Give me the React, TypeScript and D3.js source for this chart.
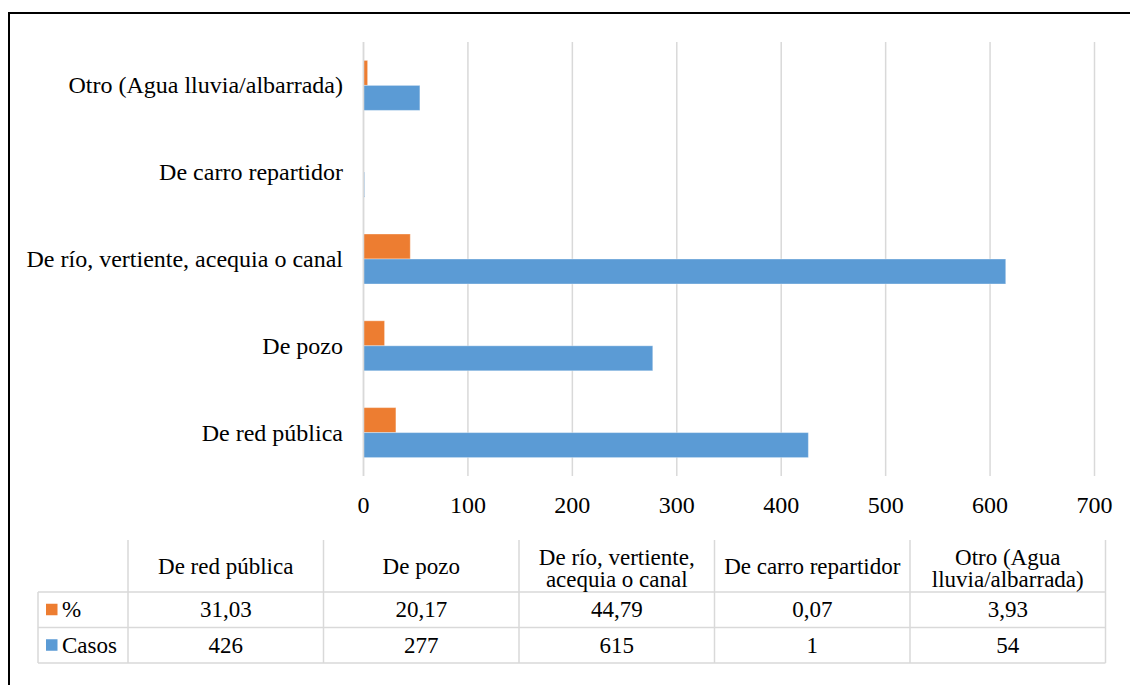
import React, { useEffect } from "react";
import * as d3 from "d3";

const categories = [
  "De red pública",
  "De pozo",
  "De río, vertiente, acequia o canal",
  "De carro repartidor",
  "Otro (Agua lluvia/albarrada)",
];
const tableHeaders = [
  ["De red pública"],
  ["De pozo"],
  ["De río, vertiente,", "acequia o canal"],
  ["De carro repartidor"],
  ["Otro (Agua", "lluvia/albarrada)"],
];
const pctValues = [31.03, 20.17, 44.79, 0.07, 3.93];
const pctLabels = ["31,03", "20,17", "44,79", "0,07", "3,93"];
const casosValues = [426, 277, 615, 1, 54];
const casosLabels = ["426", "277", "615", "1", "54"];
const seriesNames = ["%", "Casos"];
const seriesColors = ["#ED7D31", "#5B9BD5"];
const xTicks = [0, 100, 200, 300, 400, 500, 600, 700];

const W = 1130;
const H = 685;
const FONT_STYLE = { fontFamily: '"Liberation Serif"' };
const FS = 24;
const TFS = 23;

export default function App() {
  useEffect(() => {
    document.body.style.margin = "0";
  }, []);

  const x = d3.scaleLinear().domain([0, 700]).range([363.5, 1094.5]);
  const yCats = [...categories].reverse();
  const y = d3
    .scaleBand<string>()
    .domain(yCats)
    .range([42, 476])
    .paddingInner(0.424)
    .paddingOuter(0.212);
  const ySub = d3.scaleBand<string>().domain(seriesNames).range([0, y.bandwidth()]);
  const seriesData = [pctValues, casosValues];

  const colX = d3.scaleLinear().domain([0, 5]).range([128, 1105.5]);
  const colW = colX(1) - colX(0);
  const tableTop = 540;
  const rowLines = [592, 627.5, 663];
  const gridColor = "#d9d9d9";

  return (
    <svg width={W} height={H} style={{ display: "block" }}>
      <rect x={0} y={0} width={W} height={H} fill="#fff" />
      <rect x={9} y={13} width={W + 20} height={H + 20} fill="none" stroke="#000" strokeWidth={2} />

      {xTicks.map((t) => (
        <line key={t} x1={x(t)} x2={x(t)} y1={42} y2={476} stroke={gridColor} strokeWidth={1.5} />
      ))}

      {categories.map((c, i) => (
        <g key={c}>
          {seriesNames.map((s, j) => (
            <rect
              key={s}
              x={x(0)}
              y={(y(c) as number) + (ySub(s) as number)}
              width={x(seriesData[j][i]) - x(0)}
              height={ySub.bandwidth()}
              fill={seriesColors[j]}
              stroke="#ffffff"
              strokeOpacity={0.35}
              strokeWidth={1}
            />
          ))}
          <text
            x={343}
            y={(y(c) as number) + y.bandwidth() / 2 + 8}
            textAnchor="end"
            fontSize={FS}
            style={FONT_STYLE}
            fill="#000"
          >
            {c}
          </text>
        </g>
      ))}
      <line x1={x(0)} x2={x(0)} y1={42} y2={476} stroke={gridColor} strokeWidth={1.5} />

      {xTicks.map((t) => (
        <text key={t} x={x(t)} y={513} textAnchor="middle" fontSize={FS} style={FONT_STYLE} fill="#000">
          {t}
        </text>
      ))}

      <g stroke={gridColor} strokeWidth={1.5}>
        {d3.range(6).map((k) => (
          <line key={k} x1={colX(k)} x2={colX(k)} y1={tableTop} y2={rowLines[2]} />
        ))}
        <line x1={38} x2={38} y1={rowLines[0]} y2={rowLines[2]} />
        {rowLines.map((ry) => (
          <line key={ry} x1={38} x2={colX(5)} y1={ry} y2={ry} />
        ))}
      </g>
      {tableHeaders.map((lines, i) => {
        const cx = colX(i) + colW / 2;
        const base = lines.length === 1 ? 573.5 : 565;
        return (
          <text key={i} textAnchor="middle" fontSize={TFS} style={FONT_STYLE} fill="#000">
            {lines.map((l, k) => (
              <tspan key={k} x={cx} y={base + k * 21.5}>
                {l}
              </tspan>
            ))}
          </text>
        );
      })}
      {[pctLabels, casosLabels].map((labels, r) => {
        const cy = (rowLines[r] + rowLines[r + 1]) / 2;
        return (
          <g key={r}>
            <rect x={46} y={cy - 6} width={11.5} height={11.5} fill={seriesColors[r]} />
            <text x={62} y={cy + 7.5} fontSize={TFS} style={FONT_STYLE} fill="#000">
              {seriesNames[r]}
            </text>
            {labels.map((l, i) => (
              <text key={i} x={colX(i) + colW / 2} y={cy + 7.5} textAnchor="middle" fontSize={TFS} style={FONT_STYLE} fill="#000">
                {l}
              </text>
            ))}
          </g>
        );
      })}
    </svg>
  );
}
